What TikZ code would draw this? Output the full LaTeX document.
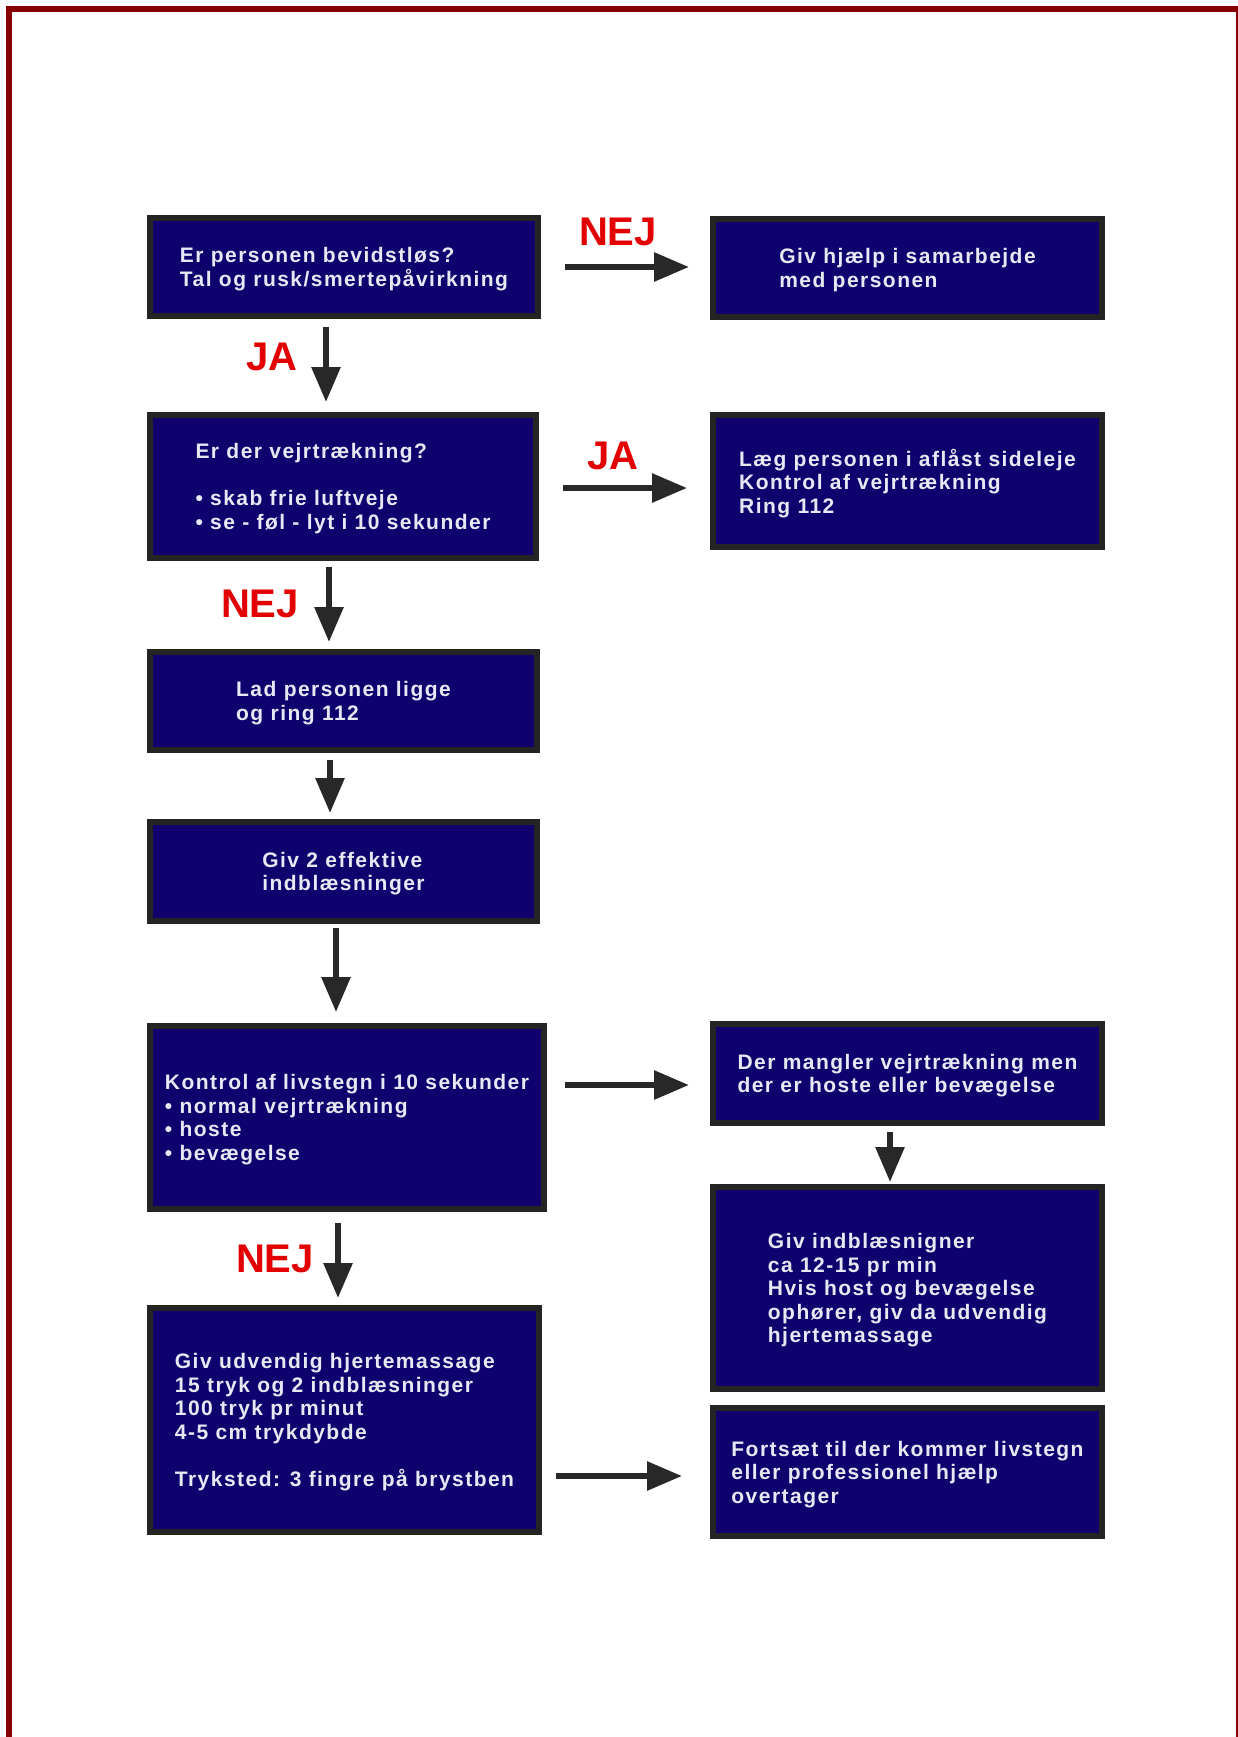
\documentclass[tikz,border=0pt]{standalone}
\usepackage{fontspec}
\setmainfont{Liberation Sans}
\newfontfamily\boxfont{Liberation Sans}[LetterSpace=7]
\newfontfamily\labfont{Liberation Sans}
\usetikzlibrary{arrows.meta}
\definecolor{navy}{RGB}{15,0,110}
\definecolor{boxedge}{RGB}{36,36,36}
\definecolor{boxtext}{RGB}{232,232,244}
\definecolor{labred}{RGB}{226,0,0}
\definecolor{arrgray}{RGB}{40,40,40}
\definecolor{framered}{RGB}{135,0,0}
\begin{document}
\begin{tikzpicture}[x=1pt,y=-1pt,
 box/.style={draw=boxedge, line width=6pt, fill=navy, text=boxtext, align=left, inner sep=0pt,
   text depth=0pt, font=\boxfont\bfseries\fontsize{21}{23.5}\selectfont},
 arr/.style={draw=arrgray, line width=6pt, -{Triangle[length=35pt,width=28pt]}},
 lab/.style={text=labred, inner sep=0pt, font=\labfont\bfseries\fontsize{40}{40}\selectfont}]

\useasboundingbox (0,0) rectangle (1237,1737);
\fill[white] (0,0) rectangle (1237,1737);
\draw[framered, line width=6pt] (9,1760) -- (9,9) -- (1239,9) -- (1239,1760);

\node[box, minimum width=388pt, minimum height=98pt] (A) at (344,267)
  {Er personen bevidstløs?\\Tal og rusk/smertepåvirkning};
\node[box, minimum width=389pt, minimum height=98pt] (B) at (907.5,268)
  {Giv hjælp i samarbejde\\med personen};
\node[box, minimum width=386pt, minimum height=143pt] (C) at (343,486.5)
  {Er der vejrtrækning?\\~\\• skab frie luftveje\\• se - føl - lyt i 10 sekunder};
\node[box, minimum width=389pt, minimum height=132pt] (D) at (907.5,481)
  {Læg personen i aflåst sideleje\\Kontrol af vejrtrækning\\Ring 112};
\node[box, minimum width=387pt, minimum height=98pt] (E) at (343.5,701)
  {Lad personen ligge\\og ring 112};
\node[box, minimum width=387pt, minimum height=99pt] (F) at (343.5,871.5)
  {Giv 2 effektive\\indblæsninger};
\node[box, minimum width=394pt, minimum height=183pt] (G) at (347,1117.5)
  {Kontrol af livstegn i 10 sekunder\\• normal vejrtrækning\\• hoste\\• bevægelse};
\node[box, minimum width=389pt, minimum height=99pt] (H) at (907.5,1073.5)
  {Der mangler vejrtrækning men\\der er hoste eller bevægelse};
\node[box, minimum width=389pt, minimum height=202pt] (I) at (907.5,1288)
  {Giv indblæsnigner\\ca 12-15 pr min\\Hvis host og bevægelse\\ophører, giv da udvendig\\hjertemassage};
\node[box, minimum width=389pt, minimum height=224pt] (J) at (344.5,1420)
  {Giv udvendig hjertemassage\\15 tryk og 2 indblæsninger\\100 tryk pr minut\\4-5 cm trykdybde\\~\\Tryksted: 3 fingre på brystben};
\node[box, minimum width=389pt, minimum height=128pt] (K) at (907.5,1472)
  {Fortsæt til der kommer livstegn\\eller professionel hjælp\\overtager};

\draw[arr, shorten <=24pt, shorten >=21pt] (A.east) -- (A.east -| B.west);
\draw[arr, shorten <=8pt, shorten >=10pt] ([xshift=-18pt]A.south) -- ([xshift=-18pt]A.south |- C.north);
\draw[arr, shorten <=24pt, shorten >=23pt] ([yshift=-1.5pt]C.east) -- ([yshift=-1.5pt]C.east -| D.west);
\draw[arr, shorten <=6pt, shorten >=7pt] ([xshift=-14pt]C.south) -- ([xshift=-14pt]C.south |- E.north);
\draw[arr, shorten <=7pt, shorten >=6pt] ([xshift=-13.5pt]E.south) -- ([xshift=-13.5pt]E.south |- F.north);
\draw[arr, shorten <=4pt, shorten >=11pt] ([xshift=-7.5pt]F.south) -- ([xshift=-7.5pt]F.south |- G.north);
\draw[arr, shorten <=18pt, shorten >=21pt] ([yshift=32.5pt]G.east) -- ([yshift=32.5pt]G.east -| H.west);
\draw[arr, shorten <=6pt, shorten >=2pt] ([xshift=-17.5pt]H.south) -- ([xshift=-17.5pt]H.south |- I.north);
\draw[arr, shorten <=11pt, shorten >=7pt] ([xshift=-9pt]G.south) -- ([xshift=-9pt]G.south |- J.north);
\draw[arr, shorten <=14pt, shorten >=28pt] ([yshift=-56pt]J.east) -- ([yshift=-56pt]J.east -| K.west);

\node[lab] (l1) at (618,232) {NEJ};
\node[lab] (l2) at (272,357) {JA};
\node[lab] (l3) at (613,456) {JA};
\node[lab] (l4) at (260,604) {NEJ};
\node[lab] (l5) at (275,1259) {NEJ};
\end{tikzpicture}
\end{document}
